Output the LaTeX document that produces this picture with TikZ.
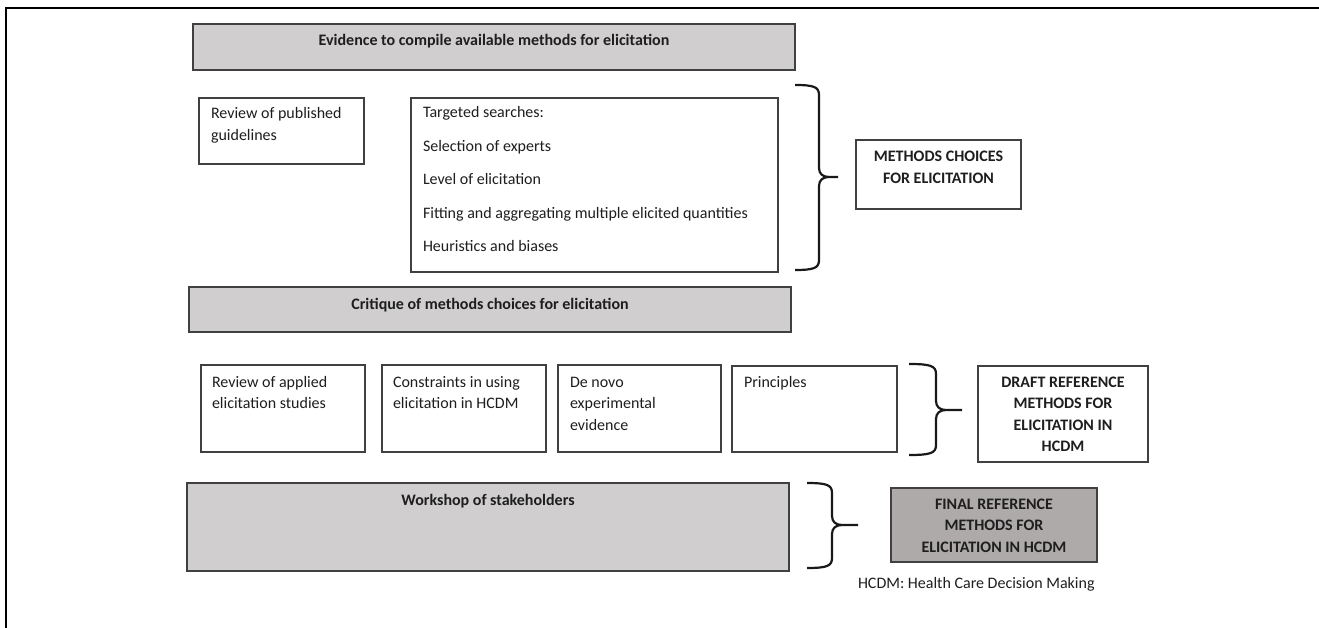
\documentclass[tikz,border=0pt]{standalone}
\usepackage{fontspec}
\setmainfont{Carlito}
\definecolor{lightg}{HTML}{D0CECE}
\definecolor{darkg}{HTML}{AEAAAA}
\definecolor{bordc}{HTML}{404040}
\definecolor{txtc}{HTML}{1E1E1E}
\newcommand\mybrc[6]{% x0 xs xt ytop ybot ym
 \draw[bracestyle] (#1,#4) .. controls ({#2-5},#4) and (#2,{#4+2}) .. (#2,{#4+10}) -- (#2,{#6-9}) .. controls (#2,{#6-3}) and ({#2+4},#6) .. ({#2+10},#6) -- (#3,#6)
 ({#2+10},#6) .. controls ({#2+4},#6) and (#2,{#6+3}) .. (#2,{#6+9}) -- (#2,{#5-10}) .. controls (#2,{#5-2}) and ({#2-5},#5) .. (#1,#5);}
\begin{document}
\begin{tikzpicture}[x=1pt,y=-1pt,
 every node/.style={inner sep=0pt, outer sep=0pt},
 box/.style={draw=bordc, line width=1.1pt, anchor=north west, fill=white},
 graybox/.style={box, fill=lightg},
 finalbox/.style={box, fill=darkg},
 txt/.style={font=\fontsize{16}{21.5}\selectfont, text=txtc, align=left, anchor=base west},
 ctxt/.style={font=\fontsize{16}{21.5}\selectfont\bfseries, text=txtc, align=center, anchor=base},
 bracestyle/.style={line width=2.2pt, draw=black!90}]
\useasboundingbox (0,0) rectangle (1319,628);
% frame
\draw[line width=2.8pt] (6,628) -- (6,8) -- (1319,8);
% boxes
\node[graybox, minimum width=602pt, minimum height=46pt] (ev) at (193,24) {};
\node[box, minimum width=165pt, minimum height=66pt] (rp) at (199,98) {};
\node[box, minimum width=367pt, minimum height=174pt] (ts) at (411,98) {};
\node[box, minimum width=165pt, minimum height=69pt] (mc) at (856,140) {};
\node[graybox, minimum width=602pt, minimum height=45pt] (cr) at (189,287) {};
\node[box, minimum width=164pt, minimum height=87pt] (ra) at (201,365) {};
\node[box, minimum width=164pt, minimum height=87pt] (co) at (382,365) {};
\node[box, minimum width=163pt, minimum height=87pt] (dn) at (558,365) {};
\node[box, minimum width=165pt, minimum height=86pt] (pr) at (732,366) {};
\node[box, minimum width=170pt, minimum height=96pt] (dr) at (978,366) {};
\node[graybox, minimum width=602pt, minimum height=88pt] (ws) at (187,483) {};
\node[finalbox, minimum width=206pt, minimum height=74pt] (fi) at (891,488) {};
% texts (base anchor = baseline of last line)
\node[ctxt] (evt) at (494,46) {Evidence to compile available methods for elicitation};
\node[txt] (rpt) at (211,140.5) {Review of published\\guidelines};
\node[txt] (ts1) at (423,118) {Targeted searches:};
\node[txt] (ts2) at (423,151.5) {Selection of experts};
\node[txt] (ts3) at (423,185) {Level of elicitation};
\node[txt] (ts4) at (423,218.5) {Fitting and aggregating multiple elicited quantities};
\node[txt] (ts5) at (423,252) {Heuristics and biases};
\node[ctxt] (mct) at (938.5,183.5) {METHODS CHOICES\\FOR ELICITATION};
\node[ctxt] (crt) at (490,309) {Critique of methods choices for elicitation};
\node[txt] (rat) at (212,408.5) {Review of applied\\elicitation studies};
\node[txt] (cot) at (393,408.5) {Constraints in using\\elicitation in HCDM};
\node[txt] (dnt) at (570,430) {De novo\\experimental\\evidence};
\node[txt] (prt) at (744,387) {Principles};
\node[ctxt] (drt) at (1063,451.5) {DRAFT REFERENCE\\METHODS FOR\\ELICITATION IN\\HCDM};
\node[ctxt] (wst) at (488,505) {Workshop of stakeholders};
\node[ctxt] (fit) at (994,552) {FINAL REFERENCE\\METHODS FOR\\ELICITATION IN HCDM};
\node[txt] (note) at (858,588) {HCDM: Health Care Decision Making};
% braces
\mybrc{795}{819}{838}{85}{270}{177}
\mybrc{909}{936}{962}{364}{455}{410}
\mybrc{807}{832}{858}{483}{568}{525}
\end{tikzpicture}
\end{document}
